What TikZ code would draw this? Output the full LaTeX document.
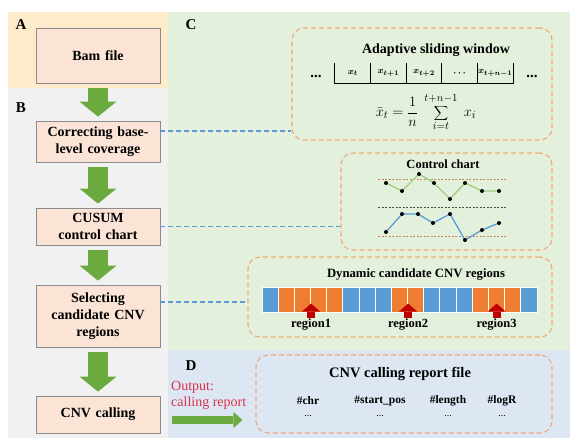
\documentclass[tikz,border=0pt]{standalone}
\usepackage{fontspec}
\setmainfont{Liberation Serif}
\usetikzlibrary{arrows.meta,calc}

\definecolor{apanel}{HTML}{FDEBC9}
\definecolor{bpanel}{HTML}{F1F1F1}
\definecolor{cpanel}{HTML}{E3F0DB}
\definecolor{dpanel}{HTML}{DCE7F3}
\definecolor{boxfill}{HTML}{FBE4D6}
\definecolor{boxline}{HTML}{8C8C8C}
\definecolor{dashorange}{HTML}{F2A777}
\definecolor{linkblue}{HTML}{5B9BD5}
\definecolor{arrowgreen}{HTML}{6AAA3F}
\definecolor{arrowred}{HTML}{C00000}
\definecolor{outred}{HTML}{D9344F}
\definecolor{chartgreen}{HTML}{A0CC82}
\definecolor{chartblue}{HTML}{5B9BD5}
\definecolor{limitline}{HTML}{C8845A}
\definecolor{cellb}{HTML}{5B9BD5}
\definecolor{cello}{HTML}{ED7D31}

\begin{document}
\begin{tikzpicture}[x=1pt,y=-1pt,
  stepbox/.style={draw=boxline, fill=boxfill, line width=0.8pt, minimum width=124pt, inner sep=0pt, text width=122pt, align=center, font=\bfseries\fontsize{14}{17}\selectfont},
  dashbox/.style={draw=dashorange, line width=1.1pt, dash pattern=on 5pt off 3pt, rounded corners=12pt, inner sep=0pt},
  link/.style={draw=linkblue, line width=1.1pt, dash pattern=on 5pt off 3pt},
  flowarrow/.style={draw=arrowgreen, line width=20pt, -{Triangle[width=37pt,length=15pt,line width=0pt]}, shorten <=5pt, shorten >=4pt},
  outflow/.style={draw=arrowgreen, line width=8pt, -{Triangle[width=16pt,length=9pt,line width=0pt]}},
  uparrow/.style={draw=arrowred, line width=8pt, -{Triangle[width=18pt,length=8pt,line width=0pt]}},
  panellabel/.style={font=\bfseries\fontsize{15}{17}\selectfont},
  title/.style={font=\bfseries\fontsize{14}{16}\selectfont},
  wcell/.style={minimum width=35.6pt, minimum height=20pt, inner sep=0pt, font=\fontsize{9.5}{11}\selectfont\boldmath},
  cell/.style={draw=white, line width=1pt, minimum width=16.18pt, minimum height=25pt, inner sep=0pt},
  reglabel/.style={font=\bfseries\fontsize{12.5}{14}\selectfont, inner sep=1pt},
  colhead/.style={font=\bfseries\fontsize{11.5}{13}\selectfont},
  dot/.style={fill=black}
]
\useasboundingbox[fill=white] (0,0) rectangle (580,447);

\fill[apanel] (8,12) rectangle (168,88);
\fill[bpanel] (8,88) rectangle (168,438);
\fill[cpanel] (168,12) rectangle (570,350);
\fill[dpanel] (168,350) rectangle (570,438);

\node[panellabel] (labA) at (21,25) {A};
\node[panellabel] (labB) at (21,108) {B};
\node[panellabel] (labC) at (191,25) {C};
\node[panellabel] (labD) at (191,366) {D};

% workflow
\node[stepbox, minimum height=55pt] (bam) at (98,55.5) {Bam file};
\node[stepbox, minimum height=41pt] (corr) at (98,141.5) {Correcting base-\\level coverage};
\node[stepbox, minimum height=37pt] (cusum) at (98,226.5) {CUSUM\\control chart};
\node[stepbox, minimum height=62pt] (sel) at (98,316) {Selecting\\candidate CNV\\regions};
\node[stepbox, minimum height=37pt] (call) at (98,414.5) {CNV calling};

\draw[flowarrow] (bam) -- (corr);
\draw[flowarrow] (corr) -- (cusum);
\draw[flowarrow] (cusum) -- (sel);
\draw[flowarrow] (sel) -- (call);

% C: sliding window
\node[dashbox, minimum width=260pt, minimum height=112pt] (win) at (422,84) {};
\node[title] (wintitle) at (436,50) {Adaptive sliding window};
\foreach \t [count=\i from 0] in {{$x_t$},{$x_{t+1}$},{$x_{t+2}$},{$\cdots$},{$x_{t+n-1}$}}
  \node[wcell] (w\i) at (352.8+35.6*\i,73) {\t};
\draw[line width=0.8pt] (w0.north west) -- (w0.south west) -- (w4.south east) -- (w4.north east);
\foreach \i in {1,...,4}
  \draw[line width=0.8pt] (w\i.north west) -- (w\i.south west);
\node[font=\bfseries\fontsize{15}{17}\selectfont] (wleft) at (316,76) {...};
\node[font=\bfseries\fontsize{15}{17}\selectfont] (wright) at (532,76) {...};
\node[font=\fontsize{15.5}{18}\selectfont] (mean) at (426,112)
  {$\displaystyle \bar{x}_t=\frac{1}{n}\;\sum_{\lower2pt\hbox{$\scriptstyle i=t$}}^{\raise2pt\hbox{$\scriptstyle t+n-1$}}\;x_i$};

% C: control chart
\node[dashbox, minimum width=211pt, minimum height=97pt] (ctrl) at (446.5,201.5) {};
\node[font=\bfseries\fontsize{12.5}{14}\selectfont] (ctrltitle) at (443,164) {Control chart};
\draw[limitline, line width=0.6pt, dash pattern=on 2pt off 1.5pt] (378,179) -- (507,179);
\draw[black!70, line width=0.6pt, dash pattern=on 2pt off 1.5pt] (378,207) -- (507,207);
\draw[limitline, line width=0.6pt, dash pattern=on 2pt off 1.5pt] (378,236) -- (507,236);
\draw[chartgreen, line width=1.3pt] plot coordinates {(386,183) (402,191) (419,174) (434,183) (450,199) (465,183) (482,191) (499,191)};
\draw[chartblue, line width=1.3pt] plot coordinates {(386,232) (402,214) (418,214) (433,223) (450,214) (465,240) (482,230) (499,223)};
\foreach \x/\y in {386/183,402/191,419/174,434/183,450/199,465/183,482/191,499/191,
                   386/232,402/214,418/214,433/223,450/214,465/240,482/230,499/223}
  \fill[dot] (\x,\y) circle[radius=2];

% C: candidate regions
\node[dashbox, minimum width=304pt, minimum height=80pt] (regbox) at (400,297) {};
\node[font=\bfseries\fontsize{12.7}{14}\selectfont] (regtitle) at (416,274) {Dynamic candidate CNV regions};
\foreach \c [count=\i from 0] in {b,o,o,o,o,b,b,b,o,o,b,b,b,o,o,o,b}
  \node[cell, fill=cell\c] (c\i) at (270.09+16.18*\i,299.5) {};
\node[reglabel] (reg1) at ([yshift=-12.5pt]c2.south east) {region1};
\node[reglabel] (reg2) at ([yshift=-12.5pt]c8.south east) {region2};
\node[reglabel] (reg3) at ([yshift=-12.5pt]c14.south) {region3};
\draw[uparrow] (reg1.north) -- ([yshift=9pt]c2.south east);
\draw[uparrow] (reg2.north) -- ([yshift=9pt]c8.south east);
\draw[uparrow] (reg3.north) -- ([yshift=9pt]c14.south);

% links
\coordinate (l1) at ([yshift=10.5pt]corr.east);
\coordinate (l3) at ([yshift=14pt]sel.east);
\draw[link] (l1) -- (l1 -| win.west);
\draw[link] (cusum.east) -- (cusum.east -| ctrl.west);
\draw[link] (l3) -- (l3 -| regbox.west);

% D: report
\node[dashbox, minimum width=296pt, minimum height=78pt] (report) at (404,394) {};
\node[font=\bfseries\fontsize{14.5}{16}\selectfont] (reptitle) at (400,374) {CNV calling report file};
\node[colhead] (chr) at (308,401) {\#chr};
\node[colhead] (start) at (380,401) {\#start\_pos};
\node[colhead] (len) at (448,401) {\#length};
\node[colhead] (logr) at (502,401) {\#logR};
\foreach \n in {chr,start,len,logr}
  \node[font=\fontsize{10}{12}\selectfont] at ([yshift=-15pt]\n.center) {...};
\node[text=outred, align=left, anchor=west, inner sep=0pt, font=\fontsize{14}{16}\selectfont] (outlbl) at (171,395) {Output:\\calling report};
\coordinate (outstart) at (172,420);
\draw[outflow] (outstart) -- (outstart -| report.west) [shorten >=13pt];
\end{tikzpicture}
\end{document}
